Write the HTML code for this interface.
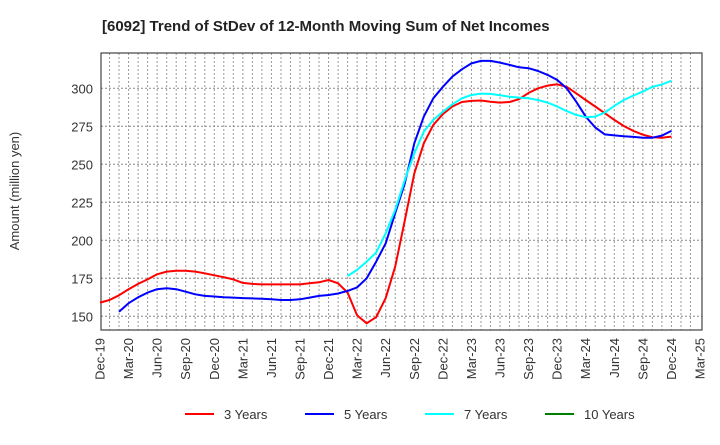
<!DOCTYPE html>
<html><head><meta charset="utf-8"><style>
body{margin:0;background:#fff;width:720px;height:440px;overflow:hidden;font-family:"Liberation Sans",Arial,sans-serif}
</style></head><body>
<svg id="c" width="720" height="440" xmlns="http://www.w3.org/2000/svg" font-family="Liberation Sans, Arial, sans-serif">
<text x="102" y="31" font-size="15" font-weight="bold" fill="#222">[6092]  Trend of StDev of 12-Month Moving Sum of Net Incomes</text>
<text transform="translate(19,191) rotate(-90)" text-anchor="middle" font-size="13" fill="#333">Amount (million yen)</text>
<g id="grid"></g><g id="axes"></g><g id="series"></g><g id="legend"></g>
</svg>
<script>
const xLabels=["Dec-19","Mar-20","Jun-20","Sep-20","Dec-20","Mar-21","Jun-21","Sep-21","Dec-21","Mar-22","Jun-22","Sep-22","Dec-22","Mar-23","Jun-23","Sep-23","Dec-23","Mar-24","Jun-24","Sep-24","Dec-24","Mar-25"];
const yTicks=[150,175,200,225,250,275,300];
const seriesNames=["3 Years","5 Years","7 Years","10 Years"];
const seriesColors=["#ff0000","#0000ff","#00ffff","#008000"];
// month index from Dec-19 = 0
const start3=0;
const s3=[159,160.7,163.8,167.8,171.3,174.3,177.6,179.4,180,180,179.4,178.3,177,175.7,174.3,172,171.3,171,171,171,171,171,171.7,172.4,173.9,171.7,165.6,150.6,145.4,149.5,162,182.7,213,244,263.8,275.9,283,288,291,291.7,292,291.2,290.6,291,292.8,297,300,301.8,302.6,301,296.7,292.3,288,283.6,279.2,275.2,272,269.5,267.8,267.5,268.2];
const start5=2;
const s5=[153,158.6,162.5,165.6,167.8,168.4,167.8,166.2,164.5,163.4,163,162.5,162.3,162,161.8,161.6,161.2,160.7,160.7,161.2,162.3,163.4,164,165,166.7,169,175,186,198,217.8,237.5,263.8,281.4,293.4,301,307.7,312.5,316.4,318,318,316.9,315.4,313.8,313.2,311.4,308.8,305.5,300,291.2,281.4,274.3,269.7,269,268.4,268,267.5,267.5,268.9,272];
const start7=26;
const s7=[176.5,180.5,186,192,204.6,220,239.7,257.2,271.5,279.2,284.6,289.5,293.4,295.6,296.5,296.3,295.4,294.5,293.9,293.4,292.3,290.6,288,285,282.5,281,281.4,284,288.4,292.3,295.2,297.8,301,302.5,305];
const start10=0;
const s10=[];
const L=101,R=702,T=53,B=330;
const X=m=>100+m*(600/63);
const Y=v=>316.3-(v-150)*1.52;
const NS="http://www.w3.org/2000/svg";
function mk(tag,attrs,parent){const e=document.createElementNS(NS,tag);for(const k in attrs)e.setAttribute(k,attrs[k]);parent.appendChild(e);return e;}
const grid=document.getElementById('grid'),axes=document.getElementById('axes'),ser=document.getElementById('series'),leg=document.getElementById('legend');
for(let m=1;m<63;m++){const x=X(m);const l=mk('line',{x1:x,x2:x,y1:T,y2:B,stroke:'#999','stroke-width':1,'stroke-dasharray':'2,2'},grid);

}
yTicks.forEach(v=>{const y=Y(v);const l=mk('line',{x1:L,x2:R,y1:y,y2:y,stroke:'#888','stroke-width':1,'stroke-dasharray':'2,2'},grid);


const t=mk('text',{x:L-8,y:y+5,'text-anchor':'end','font-size':13,fill:'#333'},axes);t.textContent=v;

});
const fr=mk('rect',{x:L,y:T,width:R-L,height:B-T,fill:'none',stroke:'#444','stroke-width':1.2},axes);


xLabels.forEach((s,i)=>{const x=X(i*3);const t=mk('text',{transform:`translate(${x+4.5},${B+8}) rotate(-90)`,'text-anchor':'end','font-size':13,fill:'#333'},axes);t.textContent=s;

});
[[s3,start3],[s5,start5],[s7,start7],[s10,start10]].forEach(([d,st],k)=>{if(!d.length)return;
const p=mk('polyline',{points:d.map((v,i)=>X(st+i).toFixed(1)+','+Y(v).toFixed(1)).join(' '),fill:'none',stroke:seriesColors[k],'stroke-width':2,'stroke-linejoin':'round'},ser);

});
seriesNames.forEach((n,k)=>{const x0=185+k*120;const g=mk('g',{},leg);


mk('line',{x1:x0,x2:x0+29,y1:414,y2:414,stroke:seriesColors[k],'stroke-width':2},g);
const t=mk('text',{x:x0+39,y:419,'font-size':13,fill:'#333'},g);t.textContent=n;});
</script>
</body></html>
